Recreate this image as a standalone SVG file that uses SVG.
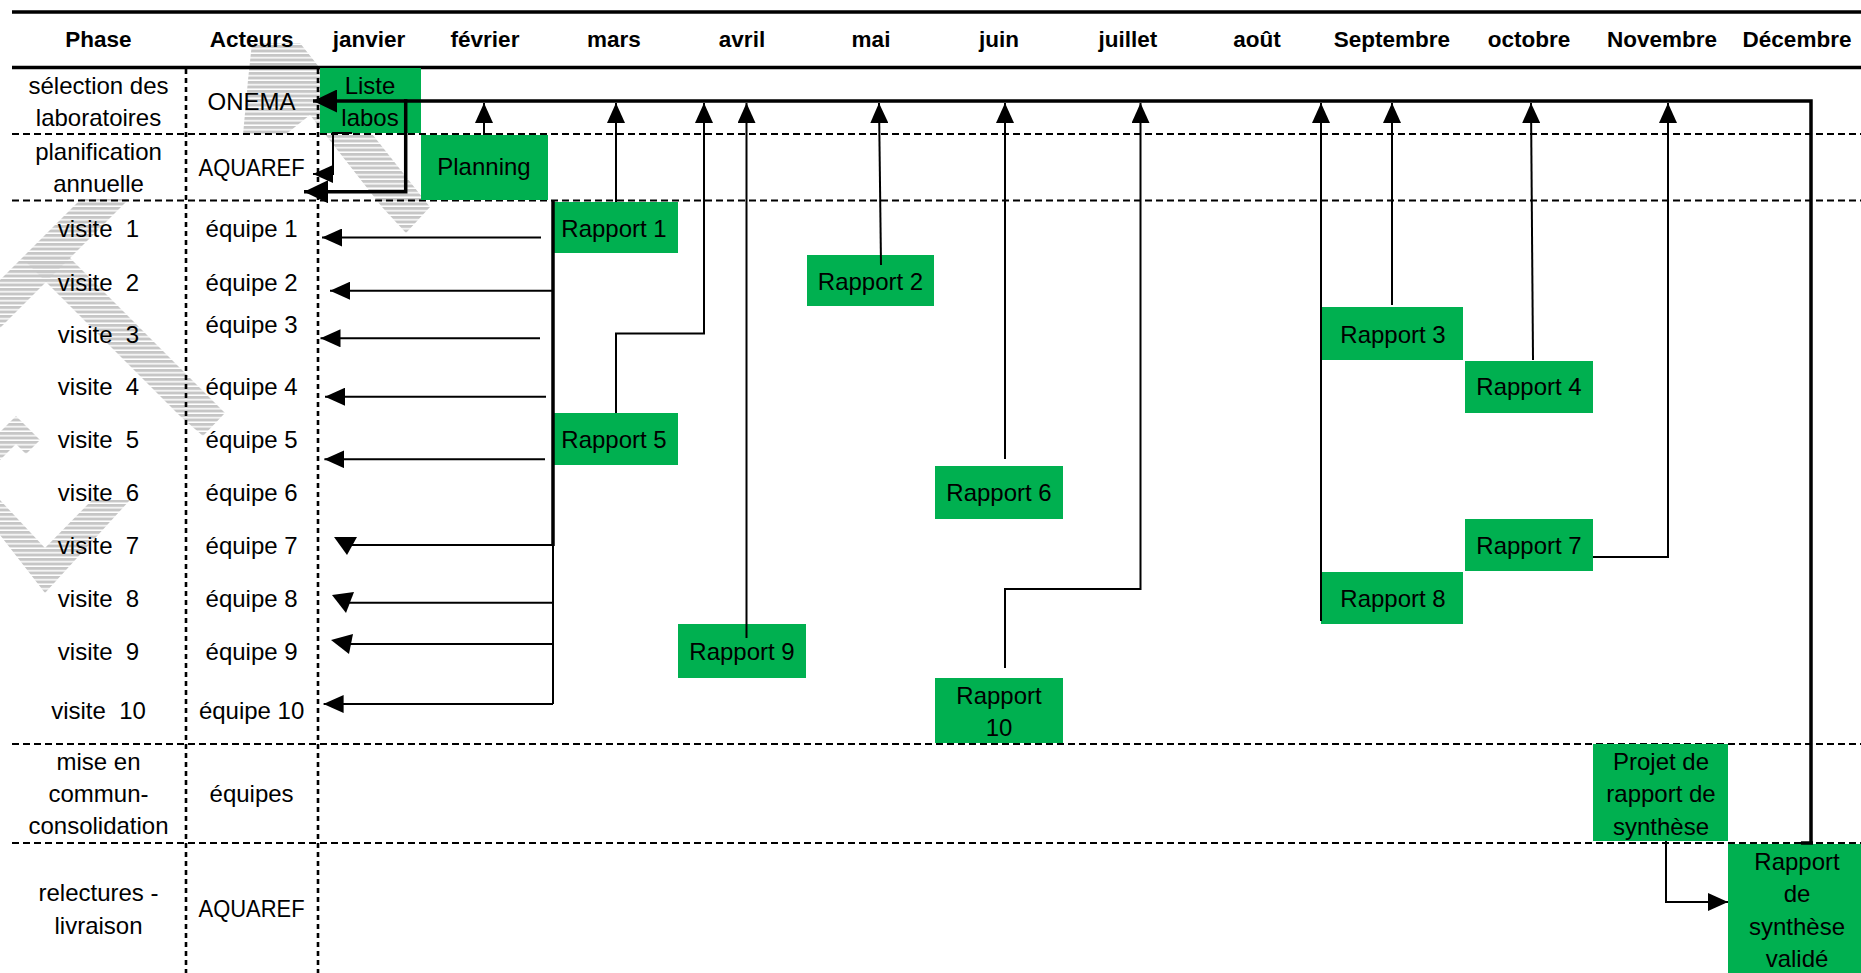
<svg xmlns="http://www.w3.org/2000/svg" width="1861" height="973" viewBox="0 0 1861 973">
<defs>
<style>
.t{font-family:"Liberation Sans",Arial,sans-serif;font-size:24px;fill:#000;text-anchor:middle}
.h{font-family:"Liberation Sans",Arial,sans-serif;font-size:22.5px;font-weight:bold;fill:#000;text-anchor:middle}
.pre{white-space:pre}
.box{fill:#00B050}
.thick{fill:none;stroke:#000;stroke-width:3.5}
.thin{fill:none;stroke:#000;stroke-width:2}
.dash{fill:none;stroke:#000;stroke-width:2.2;stroke-dasharray:7 4}
.dot{fill:none;stroke:#000;stroke-width:2.6;stroke-dasharray:5 4}
.wm{fill:url(#stripes)}
</style>
<pattern id="stripes" patternUnits="userSpaceOnUse" width="10" height="4.5">
<rect width="10" height="3" fill="#c6c6c6"/>
</pattern>
<marker id="ah" markerUnits="userSpaceOnUse" markerWidth="20" markerHeight="18" refX="20" refY="9" orient="auto">
<path d="M0,0 L20,9 L0,18 Z" fill="#000"/>
</marker>
<marker id="ahk" markerUnits="userSpaceOnUse" markerWidth="24" markerHeight="23" refX="24" refY="11.5" orient="auto">
<path d="M0,0 L24,11.5 L0,23 Z" fill="#000"/>
</marker>
</defs>
<rect width="1861" height="973" fill="#fff"/>

<g id="watermark">
<polygon class="wm" points="252,43 300,43 430,207 406,233 382,207 310,115 285,135 243,135 248,80"/>
<polygon class="wm" points="81,199 129,199 0,328 0,280"/>
<polygon class="wm" points="22,258 70,258 225,413 203,436 180,416"/>
<polygon class="wm" points="0,432 16,416 40,440 26,454 16,444 0,460"/>
<polygon class="wm" points="0,500 45,548 92,500 130,500 45,593 0,535"/>
</g>

<g id="grid">
<line x1="12" y1="12" x2="1861" y2="12" class="thick"/>
<line x1="12" y1="67.5" x2="1861" y2="67.5" class="thick"/>
<line x1="12" y1="134" x2="1861" y2="134" class="dash"/>
<line x1="12" y1="200.5" x2="1861" y2="200.5" class="dash"/>
<line x1="12" y1="744" x2="1861" y2="744" class="dash"/>
<line x1="12" y1="843" x2="1861" y2="843" class="dash"/>
<line x1="186" y1="69" x2="186" y2="973" class="dot"/>
<line x1="318" y1="69" x2="318" y2="973" class="dot"/>
</g>

<g id="header">
<text class="h" x="98.5" y="47">Phase</text>
<text class="h" x="251.6" y="47">Acteurs</text>
<text class="h" x="369" y="47">janvier</text>
<text class="h" x="485" y="47">février</text>
<text class="h" x="614" y="47">mars</text>
<text class="h" x="742" y="47">avril</text>
<text class="h" x="871" y="47">mai</text>
<text class="h" x="999" y="47">juin</text>
<text class="h" x="1128" y="47">juillet</text>
<text class="h" x="1257" y="47">août</text>
<text class="h" x="1392" y="47">Septembre</text>
<text class="h" x="1529" y="47">octobre</text>
<text class="h" x="1662" y="47">Novembre</text>
<text class="h" x="1797" y="47">Décembre</text>
</g>

<g id="rows">
<text class="t" x="98.5" y="93.5">sélection des</text>
<text class="t" x="98.5" y="125.5">laboratoires</text>
<text class="t" x="251.6" y="110">ONEMA</text>
<text class="t" x="98.5" y="160">planification</text>
<text class="t" x="98.5" y="192">annuelle</text>
<text class="t" x="251.6" y="175.5" textLength="106" lengthAdjust="spacingAndGlyphs">AQUAREF</text>
<text class="t pre" xml:space="preserve" x="98.5" y="237">visite  1</text>
<text class="t pre" xml:space="preserve" x="98.5" y="290.5">visite  2</text>
<text class="t pre" xml:space="preserve" x="98.5" y="342.7">visite  3</text>
<text class="t pre" xml:space="preserve" x="98.5" y="395">visite  4</text>
<text class="t pre" xml:space="preserve" x="98.5" y="448">visite  5</text>
<text class="t pre" xml:space="preserve" x="98.5" y="500.5">visite  6</text>
<text class="t pre" xml:space="preserve" x="98.5" y="554">visite  7</text>
<text class="t pre" xml:space="preserve" x="98.5" y="607">visite  8</text>
<text class="t pre" xml:space="preserve" x="98.5" y="659.6">visite  9</text>
<text class="t pre" xml:space="preserve" x="98.5" y="719">visite  10</text>
<text class="t" x="251.6" y="237">équipe 1</text>
<text class="t" x="251.6" y="290.5">équipe 2</text>
<text class="t" x="251.6" y="333">équipe 3</text>
<text class="t" x="251.6" y="395">équipe 4</text>
<text class="t" x="251.6" y="448">équipe 5</text>
<text class="t" x="251.6" y="500.5">équipe 6</text>
<text class="t" x="251.6" y="554">équipe 7</text>
<text class="t" x="251.6" y="607">équipe 8</text>
<text class="t" x="251.6" y="659.6">équipe 9</text>
<text class="t" x="251.6" y="719">équipe 10</text>
<text class="t" x="98.5" y="770">mise en</text>
<text class="t" x="98.5" y="802">commun-</text>
<text class="t" x="98.5" y="834">consolidation</text>
<text class="t" x="251.6" y="802">équipes</text>
<text class="t" x="98.5" y="900.5">relectures -</text>
<text class="t" x="98.5" y="934">livraison</text>
<text class="t" x="251.6" y="917" textLength="106" lengthAdjust="spacingAndGlyphs">AQUAREF</text>
</g>

<g id="node-liste"><rect class="box" x="320" y="68" width="101" height="65"/><text class="t" x="370" y="93.5">Liste</text><text class="t" x="370" y="125.5">labos</text></g>
<g id="node-planning"><rect class="box" x="421" y="135" width="127" height="65"/><text class="t" x="484" y="175">Planning</text></g>
<g id="node-r1"><rect class="box" x="552" y="202" width="126" height="51"/><text class="t" x="614" y="237">Rapport 1</text></g>
<g id="node-r2"><rect class="box" x="807" y="255" width="127" height="51"/><text class="t" x="870.5" y="290">Rapport 2</text></g>
<g id="node-r3"><rect class="box" x="1321" y="307" width="142" height="53"/><text class="t" x="1393" y="343">Rapport 3</text></g>
<g id="node-r4"><rect class="box" x="1465" y="361" width="128" height="52"/><text class="t" x="1529" y="395">Rapport 4</text></g>
<g id="node-r5"><rect class="box" x="552" y="413" width="126" height="52"/><text class="t" x="614" y="448">Rapport 5</text></g>
<g id="node-r6"><rect class="box" x="935" y="466" width="128" height="53"/><text class="t" x="999" y="501">Rapport 6</text></g>
<g id="node-r7"><rect class="box" x="1465" y="519" width="128" height="52"/><text class="t" x="1529" y="554">Rapport 7</text></g>
<g id="node-r8"><rect class="box" x="1321" y="572" width="142" height="52"/><text class="t" x="1393" y="607">Rapport 8</text></g>
<g id="node-r9"><rect class="box" x="678" y="624" width="128" height="54"/><text class="t" x="742" y="660">Rapport 9</text></g>
<g id="node-r10"><rect class="box" x="935" y="678" width="128" height="65"/><text class="t" x="999" y="703.5">Rapport</text><text class="t" x="999" y="735.6">10</text></g>
<g id="node-projet"><rect class="box" x="1593" y="744" width="135" height="97"/><text class="t" x="1661" y="770">Projet de</text><text class="t" x="1661" y="802">rapport de</text><text class="t" x="1661" y="835">synthèse</text></g>
<g id="node-valide"><rect class="box" x="1728" y="844" width="133" height="129"/><text class="t" x="1797" y="869.6">Rapport</text><text class="t" x="1797" y="901.7">de</text><text class="t" x="1797" y="935">synthèse</text><text class="t" x="1797" y="967">validé</text></g>

<g id="connectors">
<path class="thick" d="M1811,843 V101 H313" marker-end="url(#ahk)"/>
<path class="thick" d="M1801,843 H1813"/>
<path class="thick" d="M405.7,99 V191.7 H304" marker-end="url(#ahk)"/>
<path class="thin" d="M352,133 H333 V174 H313" marker-end="url(#ah)"/>
<path class="thin" d="M484,135 V103" marker-end="url(#ah)"/>
<path class="thin" d="M616,202 V103" marker-end="url(#ah)"/>
<path class="thin" d="M616,413 V333.5 H704 V103" marker-end="url(#ah)"/>
<path class="thin" d="M746.5,638 V103" marker-end="url(#ah)"/>
<path class="thin" d="M881,265 L879,103" marker-end="url(#ah)"/>
<path class="thin" d="M1005,459 V103" marker-end="url(#ah)"/>
<path class="thin" d="M1005,668 V589 H1140.5 V103" marker-end="url(#ah)"/>
<path class="thin" d="M1321,621 V103" marker-end="url(#ah)"/>
<path class="thin" d="M1392,305 V103" marker-end="url(#ah)"/>
<path class="thin" d="M1533,360 L1531,103" marker-end="url(#ah)"/>
<path class="thin" d="M1593,557 H1668 V103" marker-end="url(#ah)"/>
<path class="thick" d="M553,200 V546"/>
<path class="thin" d="M553,545 V704"/>
<path class="thin" d="M541,237.5 H322" marker-end="url(#ah)"/>
<path class="thin" d="M553,290.7 H330" marker-end="url(#ah)"/>
<path class="thin" d="M540,338.3 H320.5" marker-end="url(#ah)"/>
<path class="thin" d="M546,396.7 H325" marker-end="url(#ah)"/>
<path class="thin" d="M545,459.3 H324.4" marker-end="url(#ah)"/>
<path class="thin" d="M553,545 H347"/>
<polygon points="334,537 357,537 347,555" fill="#000"/>
<path class="thin" d="M553,602.7 H345"/>
<polygon points="332,595 354,592 346,613" fill="#000"/>
<path class="thin" d="M553,644 H350"/>
<polygon points="331,640 353,634 349,654" fill="#000"/>
<path class="thin" d="M553,704 H323.6" marker-end="url(#ah)"/>
<path class="thin" d="M1666,841 V902 H1728" marker-end="url(#ah)"/>
</g>
</svg>
